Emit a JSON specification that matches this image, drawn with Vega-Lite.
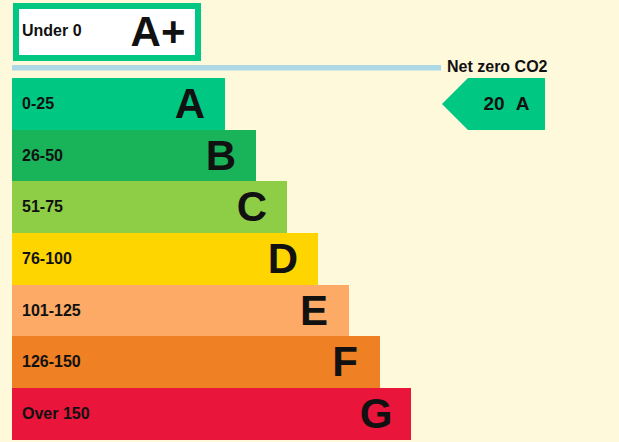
{
  "$schema": "https://vega.github.io/schema/vega-lite/v6.json",
  "width": 619,
  "height": 442,
  "padding": 0,
  "autosize": {"type": "fit", "contains": "padding"},
  "background": "#fff9dc",
  "config": {
    "view": {"stroke": null},
    "text": {"font": "Liberation Sans, Arial, sans-serif", "fontWeight": "bold", "color": "#111111"}
  },
  "datasets": {
    "bands": [
      {"rating": "A", "range": "0-25", "start": 12, "end": 225, "top": 78, "bottom": 130},
      {"rating": "B", "range": "26-50", "start": 12, "end": 256, "top": 130, "bottom": 181},
      {"rating": "C", "range": "51-75", "start": 12, "end": 287, "top": 181, "bottom": 233},
      {"rating": "D", "range": "76-100", "start": 12, "end": 318, "top": 233, "bottom": 285},
      {"rating": "E", "range": "101-125", "start": 12, "end": 349, "top": 285, "bottom": 336},
      {"rating": "F", "range": "126-150", "start": 12, "end": 380, "top": 336, "bottom": 388},
      {"rating": "G", "range": "Over 150", "start": 12, "end": 411, "top": 388, "bottom": 440}
    ],
    "best": [
      {"rating": "A+", "range": "Under 0", "start": 16, "end": 198, "top": 6, "bottom": 58}
    ],
    "netzero": [
      {"label": "Net zero CO2", "start": 12, "end": 441, "top": 65, "bottom": 70.5}
    ],
    "pointer": [
      {"px": 442, "ptop": 104, "pbottom": 104},
      {"px": 468, "ptop": 78, "pbottom": 130},
      {"px": 545, "ptop": 78, "pbottom": 130}
    ],
    "current": [
      {"label": "20", "px": 494, "py": 104},
      {"label": "A", "px": 522.5, "py": 104}
    ]
  },
  "layer": [
    {
      "data": {"name": "best"},
      "mark": {"type": "rect", "fill": "white", "stroke": "#00c781", "strokeWidth": 6},
      "encoding": {
        "x": {"field": "start", "type": "quantitative", "scale": {"domain": [0, 619], "nice": false, "zero": false}, "axis": null},
        "x2": {"field": "end"},
        "y": {"field": "top", "type": "quantitative", "scale": {"domain": [0, 442], "nice": false, "zero": false, "reverse": true}, "axis": null},
        "y2": {"field": "bottom"}
      }
    },
    {
      "data": {"name": "best"},
      "mark": {"type": "text", "align": "left", "baseline": "middle", "fontSize": 16, "dx": 6, "dy": 25},
      "encoding": {
        "x": {"field": "start", "type": "quantitative"},
        "y": {"field": "top", "type": "quantitative"},
        "text": {"field": "range"}
      }
    },
    {
      "data": {"name": "best"},
      "mark": {"type": "text", "align": "center", "baseline": "middle", "fontSize": 42, "dx": -40, "dy": 27},
      "encoding": {
        "x": {"field": "end", "type": "quantitative"},
        "y": {"field": "top", "type": "quantitative"},
        "text": {"field": "rating"}
      }
    },
    {
      "data": {"name": "netzero"},
      "mark": {"type": "rect", "fill": "#add8e6"},
      "encoding": {
        "x": {"field": "start", "type": "quantitative"},
        "x2": {"field": "end"},
        "y": {"field": "top", "type": "quantitative"},
        "y2": {"field": "bottom"}
      }
    },
    {
      "data": {"name": "netzero"},
      "mark": {"type": "text", "align": "left", "baseline": "middle", "fontSize": 16, "dx": 6, "dy": 2},
      "encoding": {
        "x": {"field": "end", "type": "quantitative"},
        "y": {"field": "top", "type": "quantitative"},
        "text": {"field": "label"}
      }
    },
    {
      "data": {"name": "bands"},
      "mark": {"type": "rect"},
      "encoding": {
        "x": {"field": "start", "type": "quantitative"},
        "x2": {"field": "end"},
        "y": {"field": "top", "type": "quantitative"},
        "y2": {"field": "bottom"},
        "color": {
          "field": "rating",
          "type": "nominal",
          "scale": {
            "domain": ["A", "B", "C", "D", "E", "F", "G"],
            "range": ["#00c781", "#19b459", "#8dce46", "#ffd500", "#fcaa65", "#ef8023", "#e9153b"]
          },
          "legend": null
        }
      }
    },
    {
      "data": {"name": "bands"},
      "mark": {"type": "text", "align": "left", "baseline": "middle", "fontSize": 16, "dx": 10, "dy": 26},
      "encoding": {
        "x": {"field": "start", "type": "quantitative"},
        "y": {"field": "top", "type": "quantitative"},
        "text": {"field": "range"}
      }
    },
    {
      "data": {"name": "bands"},
      "mark": {"type": "text", "align": "center", "baseline": "middle", "fontSize": 42, "dx": -35, "dy": 27},
      "encoding": {
        "x": {"field": "end", "type": "quantitative"},
        "y": {"field": "top", "type": "quantitative"},
        "text": {"field": "rating"}
      }
    },
    {
      "data": {"name": "pointer"},
      "mark": {"type": "area", "orient": "vertical", "color": "#00c781", "interpolate": "linear"},
      "encoding": {
        "x": {"field": "px", "type": "quantitative"},
        "y": {"field": "ptop", "type": "quantitative"},
        "y2": {"field": "pbottom"}
      }
    },
    {
      "data": {"name": "current"},
      "mark": {"type": "text", "align": "center", "baseline": "middle", "fontSize": 19},
      "encoding": {
        "x": {"field": "px", "type": "quantitative"},
        "y": {"field": "py", "type": "quantitative"},
        "text": {"field": "label"}
      }
    }
  ]
}
